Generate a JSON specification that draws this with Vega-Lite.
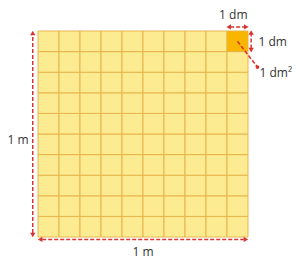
{
  "$schema": "https://vega.github.io/schema/vega-lite/v6.json",
  "autosize": "none",
  "width": 210,
  "height": 206,
  "padding": {"left": 38, "top": 31, "right": 48, "bottom": 22},
  "background": "#ffffff",
  "config": {"view": {"stroke": null}},
  "datasets": {
    "cells": [
      {"c":0,"c2":1,"r":0,"r2":1,"k":"n"},{"c":1,"c2":2,"r":0,"r2":1,"k":"n"},{"c":2,"c2":3,"r":0,"r2":1,"k":"n"},{"c":3,"c2":4,"r":0,"r2":1,"k":"n"},{"c":4,"c2":5,"r":0,"r2":1,"k":"n"},{"c":5,"c2":6,"r":0,"r2":1,"k":"n"},{"c":6,"c2":7,"r":0,"r2":1,"k":"n"},{"c":7,"c2":8,"r":0,"r2":1,"k":"n"},{"c":8,"c2":9,"r":0,"r2":1,"k":"n"},{"c":9,"c2":10,"r":0,"r2":1,"k":"n"},
      {"c":0,"c2":1,"r":1,"r2":2,"k":"n"},{"c":1,"c2":2,"r":1,"r2":2,"k":"n"},{"c":2,"c2":3,"r":1,"r2":2,"k":"n"},{"c":3,"c2":4,"r":1,"r2":2,"k":"n"},{"c":4,"c2":5,"r":1,"r2":2,"k":"n"},{"c":5,"c2":6,"r":1,"r2":2,"k":"n"},{"c":6,"c2":7,"r":1,"r2":2,"k":"n"},{"c":7,"c2":8,"r":1,"r2":2,"k":"n"},{"c":8,"c2":9,"r":1,"r2":2,"k":"n"},{"c":9,"c2":10,"r":1,"r2":2,"k":"n"},
      {"c":0,"c2":1,"r":2,"r2":3,"k":"n"},{"c":1,"c2":2,"r":2,"r2":3,"k":"n"},{"c":2,"c2":3,"r":2,"r2":3,"k":"n"},{"c":3,"c2":4,"r":2,"r2":3,"k":"n"},{"c":4,"c2":5,"r":2,"r2":3,"k":"n"},{"c":5,"c2":6,"r":2,"r2":3,"k":"n"},{"c":6,"c2":7,"r":2,"r2":3,"k":"n"},{"c":7,"c2":8,"r":2,"r2":3,"k":"n"},{"c":8,"c2":9,"r":2,"r2":3,"k":"n"},{"c":9,"c2":10,"r":2,"r2":3,"k":"n"},
      {"c":0,"c2":1,"r":3,"r2":4,"k":"n"},{"c":1,"c2":2,"r":3,"r2":4,"k":"n"},{"c":2,"c2":3,"r":3,"r2":4,"k":"n"},{"c":3,"c2":4,"r":3,"r2":4,"k":"n"},{"c":4,"c2":5,"r":3,"r2":4,"k":"n"},{"c":5,"c2":6,"r":3,"r2":4,"k":"n"},{"c":6,"c2":7,"r":3,"r2":4,"k":"n"},{"c":7,"c2":8,"r":3,"r2":4,"k":"n"},{"c":8,"c2":9,"r":3,"r2":4,"k":"n"},{"c":9,"c2":10,"r":3,"r2":4,"k":"n"},
      {"c":0,"c2":1,"r":4,"r2":5,"k":"n"},{"c":1,"c2":2,"r":4,"r2":5,"k":"n"},{"c":2,"c2":3,"r":4,"r2":5,"k":"n"},{"c":3,"c2":4,"r":4,"r2":5,"k":"n"},{"c":4,"c2":5,"r":4,"r2":5,"k":"n"},{"c":5,"c2":6,"r":4,"r2":5,"k":"n"},{"c":6,"c2":7,"r":4,"r2":5,"k":"n"},{"c":7,"c2":8,"r":4,"r2":5,"k":"n"},{"c":8,"c2":9,"r":4,"r2":5,"k":"n"},{"c":9,"c2":10,"r":4,"r2":5,"k":"n"},
      {"c":0,"c2":1,"r":5,"r2":6,"k":"n"},{"c":1,"c2":2,"r":5,"r2":6,"k":"n"},{"c":2,"c2":3,"r":5,"r2":6,"k":"n"},{"c":3,"c2":4,"r":5,"r2":6,"k":"n"},{"c":4,"c2":5,"r":5,"r2":6,"k":"n"},{"c":5,"c2":6,"r":5,"r2":6,"k":"n"},{"c":6,"c2":7,"r":5,"r2":6,"k":"n"},{"c":7,"c2":8,"r":5,"r2":6,"k":"n"},{"c":8,"c2":9,"r":5,"r2":6,"k":"n"},{"c":9,"c2":10,"r":5,"r2":6,"k":"n"},
      {"c":0,"c2":1,"r":6,"r2":7,"k":"n"},{"c":1,"c2":2,"r":6,"r2":7,"k":"n"},{"c":2,"c2":3,"r":6,"r2":7,"k":"n"},{"c":3,"c2":4,"r":6,"r2":7,"k":"n"},{"c":4,"c2":5,"r":6,"r2":7,"k":"n"},{"c":5,"c2":6,"r":6,"r2":7,"k":"n"},{"c":6,"c2":7,"r":6,"r2":7,"k":"n"},{"c":7,"c2":8,"r":6,"r2":7,"k":"n"},{"c":8,"c2":9,"r":6,"r2":7,"k":"n"},{"c":9,"c2":10,"r":6,"r2":7,"k":"n"},
      {"c":0,"c2":1,"r":7,"r2":8,"k":"n"},{"c":1,"c2":2,"r":7,"r2":8,"k":"n"},{"c":2,"c2":3,"r":7,"r2":8,"k":"n"},{"c":3,"c2":4,"r":7,"r2":8,"k":"n"},{"c":4,"c2":5,"r":7,"r2":8,"k":"n"},{"c":5,"c2":6,"r":7,"r2":8,"k":"n"},{"c":6,"c2":7,"r":7,"r2":8,"k":"n"},{"c":7,"c2":8,"r":7,"r2":8,"k":"n"},{"c":8,"c2":9,"r":7,"r2":8,"k":"n"},{"c":9,"c2":10,"r":7,"r2":8,"k":"n"},
      {"c":0,"c2":1,"r":8,"r2":9,"k":"n"},{"c":1,"c2":2,"r":8,"r2":9,"k":"n"},{"c":2,"c2":3,"r":8,"r2":9,"k":"n"},{"c":3,"c2":4,"r":8,"r2":9,"k":"n"},{"c":4,"c2":5,"r":8,"r2":9,"k":"n"},{"c":5,"c2":6,"r":8,"r2":9,"k":"n"},{"c":6,"c2":7,"r":8,"r2":9,"k":"n"},{"c":7,"c2":8,"r":8,"r2":9,"k":"n"},{"c":8,"c2":9,"r":8,"r2":9,"k":"n"},{"c":9,"c2":10,"r":8,"r2":9,"k":"n"},
      {"c":0,"c2":1,"r":9,"r2":10,"k":"n"},{"c":1,"c2":2,"r":9,"r2":10,"k":"n"},{"c":2,"c2":3,"r":9,"r2":10,"k":"n"},{"c":3,"c2":4,"r":9,"r2":10,"k":"n"},{"c":4,"c2":5,"r":9,"r2":10,"k":"n"},{"c":5,"c2":6,"r":9,"r2":10,"k":"n"},{"c":6,"c2":7,"r":9,"r2":10,"k":"n"},{"c":7,"c2":8,"r":9,"r2":10,"k":"n"},{"c":8,"c2":9,"r":9,"r2":10,"k":"n"},{"c":9,"c2":10,"r":9,"r2":10,"k":"h"}
    ],
    "lines": [
      {"x":-0.25,"y":0.2,"x2":-0.25,"y2":9.8},
      {"x":0.2,"y":-0.12,"x2":9.8,"y2":-0.12},
      {"x":9.15,"y":10.2,"x2":9.85,"y2":10.2},
      {"x":10.15,"y":9.15,"x2":10.15,"y2":9.85},
      {"x":9.5,"y":9.5,"x2":10.45,"y2":8.25}
    ],
    "heads": [
      {"x":-0.25,"y":9.9,"d":"up"},
      {"x":-0.25,"y":0.1,"d":"down"},
      {"x":0.1,"y":-0.12,"d":"left"},
      {"x":9.9,"y":-0.12,"d":"right"},
      {"x":9.08,"y":10.2,"d":"left"},
      {"x":9.92,"y":10.2,"d":"right"},
      {"x":10.15,"y":9.93,"d":"up"},
      {"x":10.15,"y":9.07,"d":"down"}
    ],
    "dots": [{"x":10.45,"y":8.25}],
    "labels": [
      {"x":-0.95,"y":4.7,"t":"1 m","a":"c"},
      {"x":5.0,"y":-0.73,"t":"1 m","a":"c"},
      {"x":9.3,"y":10.78,"t":"1 dm","a":"c"},
      {"x":10.5,"y":9.47,"t":"1 dm","a":"l"},
      {"x":10.55,"y":7.96,"t":"1 dm²","a":"l"}
    ]
  },
  "layer": [
    {
      "data": {"name": "cells"},
      "mark": {"type": "rect", "stroke": "#E7B44C", "strokeWidth": 1},
      "encoding": {
        "x": {"field": "c", "type": "quantitative", "scale": {"domain": [0, 10], "nice": false, "zero": false}, "axis": null},
        "x2": {"field": "c2"},
        "y": {"field": "r", "type": "quantitative", "scale": {"domain": [0, 10], "nice": false, "zero": false}, "axis": null},
        "y2": {"field": "r2"},
        "fill": {"field": "k", "type": "nominal", "scale": {"domain": ["n", "h"], "range": ["#FDEB92", "#F8B600"]}, "legend": null}
      }
    },
    {
      "data": {"name": "lines"},
      "mark": {"type": "rule", "color": "#D8352E", "strokeWidth": 1.5, "strokeDash": [4, 2]},
      "encoding": {
        "x": {"field": "x", "type": "quantitative", "scale": {"domain": [0, 10], "nice": false, "zero": false}, "axis": null},
        "x2": {"field": "x2"},
        "y": {"field": "y", "type": "quantitative", "scale": {"domain": [0, 10], "nice": false, "zero": false}, "axis": null},
        "y2": {"field": "y2"}
      }
    },
    {
      "data": {"name": "heads"},
      "mark": {"type": "point", "filled": true, "color": "#D8352E", "opacity": 1, "size": 28},
      "encoding": {
        "x": {"field": "x", "type": "quantitative", "scale": {"domain": [0, 10], "nice": false, "zero": false}, "axis": null},
        "y": {"field": "y", "type": "quantitative", "scale": {"domain": [0, 10], "nice": false, "zero": false}, "axis": null},
        "shape": {"field": "d", "type": "nominal", "scale": {"domain": ["up", "down", "left", "right"], "range": ["triangle-up", "triangle-down", "triangle-left", "triangle-right"]}, "legend": null}
      }
    },
    {
      "data": {"name": "dots"},
      "mark": {"type": "circle", "color": "#D8352E", "opacity": 1, "size": 14},
      "encoding": {
        "x": {"field": "x", "type": "quantitative", "scale": {"domain": [0, 10], "nice": false, "zero": false}, "axis": null},
        "y": {"field": "y", "type": "quantitative", "scale": {"domain": [0, 10], "nice": false, "zero": false}, "axis": null}
      }
    },
    {
      "data": {"name": "labels"},
      "transform": [{"filter": "datum.a == 'c'"}],
      "mark": {"type": "text", "align": "center", "baseline": "middle", "font": "Open Sans", "fontSize": 12, "fill": "#333333", "color": "#333333"},
      "encoding": {
        "x": {"field": "x", "type": "quantitative", "scale": {"domain": [0, 10], "nice": false, "zero": false}, "axis": null},
        "y": {"field": "y", "type": "quantitative", "scale": {"domain": [0, 10], "nice": false, "zero": false}, "axis": null},
        "text": {"field": "t"}
      }
    },
    {
      "data": {"name": "labels"},
      "transform": [{"filter": "datum.a == 'l'"}],
      "mark": {"type": "text", "align": "left", "baseline": "middle", "font": "Open Sans", "fontSize": 12, "fill": "#333333", "color": "#333333"},
      "encoding": {
        "x": {"field": "x", "type": "quantitative", "scale": {"domain": [0, 10], "nice": false, "zero": false}, "axis": null},
        "y": {"field": "y", "type": "quantitative", "scale": {"domain": [0, 10], "nice": false, "zero": false}, "axis": null},
        "text": {"field": "t"}
      }
    }
  ]
}
